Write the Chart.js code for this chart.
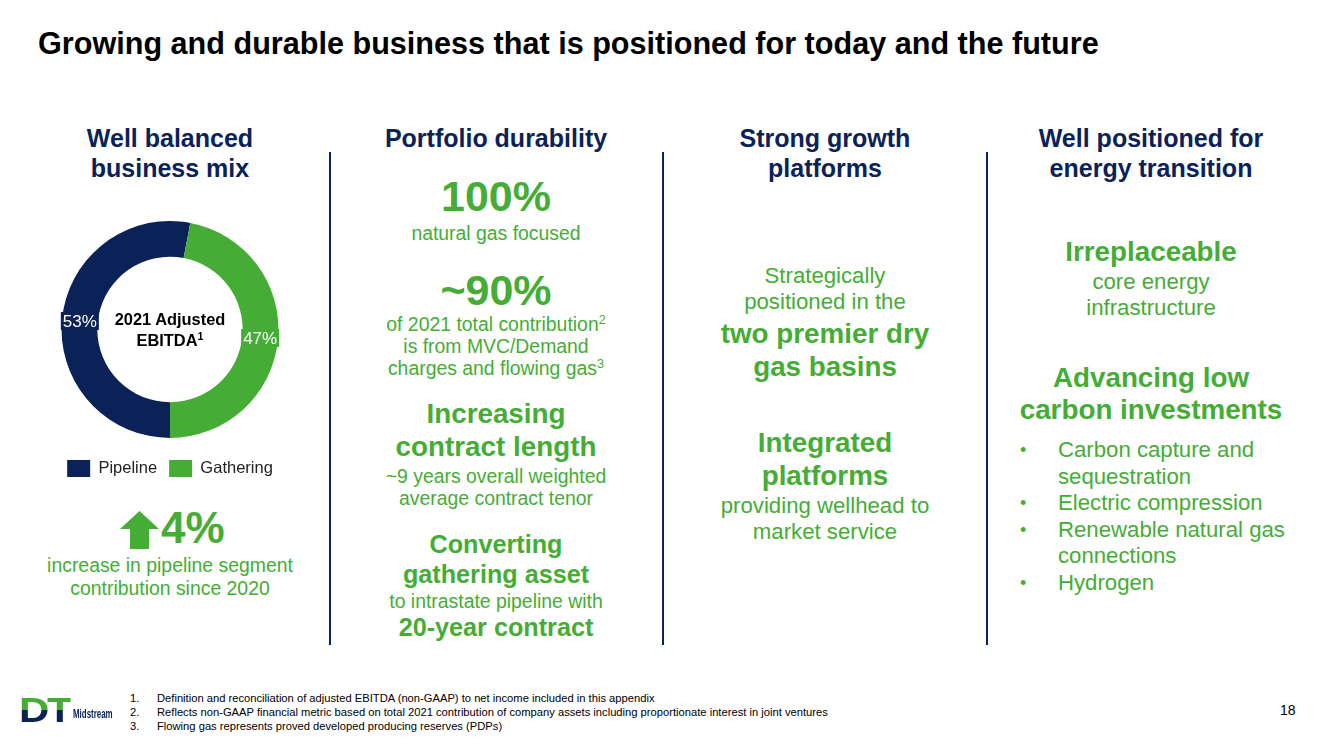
<!DOCTYPE html>
<html>
<head>
<meta charset="utf-8">
<script src="https://cdn.jsdelivr.net/npm/chart.js@4.4.1/dist/chart.umd.min.js"></script>
<style>
  body { margin: 0; background: #fff; font-family: "Liberation Sans", Arial, sans-serif; }
  #slide { position: relative; width: 1327px; height: 743px; overflow: hidden; }
  .abs { position: absolute; }
  .title { left: 38px; top: 25px; font-size: 30.6px; line-height: 36px; font-weight: bold; color: #000; white-space: nowrap; }
  .hdr { font-size: 25px; font-weight: bold; color: #0b2258; text-align: center; line-height: 30px; width: 340px; white-space: nowrap; }
  .col { text-align: center; color: #45ad35; width: 320px; white-space: nowrap; }
  .big { font-size: 43px; font-weight: bold; line-height: 46px; }
  .b28 { font-size: 27.8px; font-weight: bold; line-height: 33px; }
  .b25 { font-size: 25.2px; font-weight: bold; line-height: 30px; }
  .t19 { font-size: 19.4px; line-height: 22px; }
  .t22 { font-size: 22.2px; line-height: 26px; }
  .vline { width: 2px; background: #0b2258; top: 152px; height: 493px; }
  sup { font-size: 65%; line-height: 0; vertical-align: 0.55em; }
  ul { margin: 0; padding: 0; list-style: none; }
  li { position: relative; padding-left: 38px; white-space: nowrap; }
  li:before { content: "\2022"; position: absolute; left: 0px; font-size: 18px; }
  .foot { left: 130px; top: 691px; font-size: 11.2px; line-height: 14px; color: #000; white-space: nowrap; }
  .foot span { display: inline-block; width: 27px; }
</style>
</head>
<body>
<div id="slide">
  <div class="abs title">Growing and durable business that is positioned for today and the future</div>

  <div class="abs hdr" style="left:0px; top:123px;">Well balanced<br>business mix</div>
  <div class="abs hdr" style="left:326px; top:123px;">Portfolio durability</div>
  <div class="abs hdr" style="left:655px; top:123px;">Strong growth<br>platforms</div>
  <div class="abs hdr" style="left:981px; top:123px;">Well positioned for<br>energy transition</div>

  <div class="abs vline" style="left:329px;"></div>
  <div class="abs vline" style="left:662px;"></div>
  <div class="abs vline" style="left:986px;"></div>

  <!-- donut -->
  <div class="abs" style="left:40px; top:221px; width:260px; height:266px;">
    <canvas id="mix"></canvas>
  </div>
  <div class="abs" style="left:90px; top:309px; width:160px; text-align:center; font-size:16.4px; font-weight:bold; line-height:21px; color:#000;">2021 Adjusted<br>EBITDA<sup>1</sup></div>

  <!-- 4% -->
  <svg class="abs" style="left:120px; top:511px;" width="39" height="38" viewBox="0 0 39 38">
    <polygon points="19.5,0 39,18 29,18 29,38 10,38 10,18 0,18" fill="#45ad35"/>
  </svg>
  <div class="abs" style="left:161px; top:505px; font-size:44px; font-weight:bold; color:#45ad35; line-height:46px;">4%</div>
  <div class="abs col t19" style="left:10px; top:554px; line-height:23px;">increase in pipeline segment<br>contribution since 2020</div>

  <!-- column 2 -->
  <div class="abs col big" style="left:336px; top:173px;">100%</div>
  <div class="abs col t19" style="left:336px; top:222px;">natural gas focused</div>
  <div class="abs col big" style="left:336px; top:267px;">~90%</div>
  <div class="abs col t19" style="left:336px; top:313px;">of 2021 total contribution<sup>2</sup><br>is from MVC/Demand<br>charges and flowing gas<sup>3</sup></div>
  <div class="abs col b28" style="left:336px; top:397px;">Increasing<br>contract length</div>
  <div class="abs col t19" style="left:336px; top:465px;">~9 years overall weighted<br>average contract tenor</div>
  <div class="abs col b25" style="left:336px; top:529px;">Converting<br>gathering asset</div>
  <div class="abs col t19" style="left:336px; top:590px;">to intrastate pipeline with</div>
  <div class="abs col b25" style="left:336px; top:612px;">20-year contract</div>

  <!-- column 3 -->
  <div class="abs col t22" style="left:665px; top:263px;">Strategically<br>positioned in the</div>
  <div class="abs col b28" style="left:665px; top:317px;">two premier dry<br>gas basins</div>
  <div class="abs col b28" style="left:665px; top:426px;">Integrated<br>platforms</div>
  <div class="abs col t22" style="left:665px; top:493px;">providing wellhead to<br>market service</div>

  <!-- column 4 -->
  <div class="abs col b28" style="left:991px; top:235px;">Irreplaceable</div>
  <div class="abs col t22" style="left:991px; top:269px;">core energy<br>infrastructure</div>
  <div class="abs col b28" style="left:991px; top:362px; line-height:32px;">Advancing low<br>carbon investments</div>
  <ul class="abs t22" style="left:1020px; top:437px; color:#45ad35; line-height:26.5px;">
    <li>Carbon capture and<br>sequestration</li>
    <li>Electric compression</li>
    <li>Renewable natural gas<br>connections</li>
    <li>Hydrogen</li>
  </ul>

  <!-- footer -->
  <div class="abs" style="left:19px; top:697px; font-size:35px; font-weight:900; line-height:26px; letter-spacing:-2px; transform:scaleX(1.2); transform-origin:left;
       background:linear-gradient(#45ad35 0, #45ad35 50%, #0b2258 50%); -webkit-background-clip:text; color:transparent;">DT</div>
  <div class="abs" style="left:73px; top:707px; font-size:12px; font-weight:bold; color:#0b2258; transform:scaleX(0.66); transform-origin:left;">Midstream</div>
  <div class="abs foot">
    <div><span>1.</span>Definition and reconciliation of adjusted EBITDA (non-GAAP) to net income included in this appendix</div>
    <div><span>2.</span>Reflects non-GAAP financial metric based on total 2021 contribution of company assets including proportionate interest in joint ventures</div>
    <div><span>3.</span>Flowing gas represents proved developed producing reserves (PDPs)</div>
  </div>
  <div class="abs" style="left:1280px; top:702px; font-size:14px;">18</div>
</div>

<script>
let segments = ["Pipeline", "Gathering"];
let shares = [53, 47];
let segmentColors = ["#0b2258", "#45ad35"];

// percent label in a filled box, placed on the middle of each arc
let boxLabels = {
    id: "boxLabels",
    afterDatasetsDraw(chart) {
        let ctx = chart.ctx;
        let meta = chart.getDatasetMeta(0);
        ctx.save();
        ctx.font = "17px 'Liberation Sans', Arial, sans-serif";
        ctx.textAlign = "center";
        ctx.textBaseline = "middle";
        meta.data.forEach((arc, i) => {
            let {x, y} = arc.tooltipPosition();
            let text = shares[i] + "%";
            let w = ctx.measureText(text).width + 4;
            ctx.fillStyle = segmentColors[i];
            ctx.fillRect(x - w / 2, y - 9, w, 18);
            ctx.fillStyle = "#fff";
            ctx.fillText(text, x, y + 1);
        });
        ctx.restore();
    }
};

new Chart(document.getElementById("mix"), {
    type: "doughnut",
    data: {
        labels: segments,
        datasets: [{
            data: shares,
            backgroundColor: segmentColors,
            borderWidth: 0
        }]
    },
    options: {
        responsive: true,
        maintainAspectRatio: false,
        animation: false,
        rotation: 180,
        cutout: "67%",
        layout: {padding: 0},
        plugins: {
            tooltip: {enabled: false},
            legend: {
                position: "bottom",
                // empty title just adds a gap above the legend row
                title: {display: true, text: "", padding: 0, font: {size: 8.4}},
                labels: {
                    boxWidth: 23,
                    boxHeight: 17,
                    padding: 12,
                    color: "#222",
                    font: {family: "'Liberation Sans', Arial, sans-serif", size: 16.5}
                }
            }
        }
    },
    plugins: [boxLabels]
});
</script>
</body>
</html>
